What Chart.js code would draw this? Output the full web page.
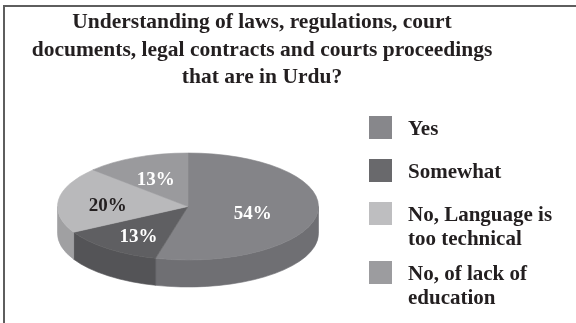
<!DOCTYPE html>
<html>
<head>
<meta charset="utf-8">
<script src="https://cdn.jsdelivr.net/npm/chart.js@4/dist/chart.umd.min.js"></script>
<style>
  html, body { margin: 0; padding: 0; background: #fff; }
  body { width: 576px; height: 323px; position: relative; overflow: hidden; }
  .frame { position: absolute; left: 3px; top: 5px; width: 640px; height: 420px; border: 2px solid #5e5e5e; }
  .chart-wrap { position: absolute; left: 0; top: 0; width: 524px; height: 323px; }
  .legend { position: absolute; left: 369px; top: 0; font-family: "Liberation Serif", serif; font-weight: bold; font-size: 21px; line-height: 24px; color: #231f20; }
  .legend-item { position: absolute; left: 0; white-space: nowrap; }
  .legend-box { position: absolute; left: 0; top: 0.5px; width: 23px; height: 23px; }
  .legend-text { position: absolute; left: 39px; top: 0; }
</style>
</head>
<body>
<div class="frame"></div>
<div class="chart-wrap"><canvas id="pie-chart"></canvas></div>
<div class="legend" id="legend"></div>
<script>
// data
const TITLE_LINES = [
  "Understanding of laws, regulations, court",
  "documents, legal contracts and courts proceedings",
  "that are in Urdu?"
];
const CATEGORIES = ["Yes", "Somewhat", "No, Language is too technical", "No, of lack of education"];
const LEGEND_LINES = [["Yes"], ["Somewhat"], ["No, Language is", "too technical"], ["No, of lack of", "education"]];
const SHARES = [54, 13, 20, 13];

// styles
const SERIF = "'Liberation Serif', serif";
const TOP_COLORS = ["#848488", "#5f5f62", "#b9b9bb", "#9a9a9d"];
const SIDE_COLORS = ["#6f6f73", "#545457", "#a0a0a2", "#8a8a8d"];
const LEGEND_COLORS = ["#87878b", "#69696c", "#bebec0", "#9c9c9f"];
const PCT_COLORS = ["#ffffff", "#ffffff", "#231f20", "#ffffff"];
const LEGEND_TOPS = [115.5, 158.5, 201.5, 260.5];

// 3d pie geometry (layout only)
const PIE = { cx: 188, cy: 206.5, rx: 130.5, ry: 53.5, depth: 27, labelK: 0.62 };

// build the html legend
const legendEl = document.getElementById("legend");
LEGEND_LINES.forEach((lines, i) => {
  const item = document.createElement("div");
  item.className = "legend-item";
  item.style.top = LEGEND_TOPS[i] + "px";
  item.innerHTML = `<div class="legend-box" style="background:${LEGEND_COLORS[i]}"></div>` +
    `<div class="legend-text">${lines.join("<br>")}</div>`;
  legendEl.appendChild(item);
});

// draws the library's arcs as a tilted pie with a side wall
const pie3d = {
  id: "pie3d",
  beforeDatasetsDraw(chart) {
    const ctx = chart.ctx;
    const arcs = chart.getDatasetMeta(0).data;
    const { cx, cy, rx, ry, depth } = PIE;
    ctx.save();

    // front side walls (visible part is angle 0..PI)
    arcs.forEach((arc, i) => {
      const { startAngle, endAngle } = arc.getProps(["startAngle", "endAngle"], true);
      for (let k = -1; k <= 1; k++) {
        const s = Math.max(startAngle + k * 2 * Math.PI, 0);
        const e = Math.min(endAngle + k * 2 * Math.PI, Math.PI);
        if (e <= s) continue;
        ctx.beginPath();
        ctx.ellipse(cx, cy, rx, ry, 0, s, e);
        ctx.ellipse(cx, cy + depth, rx, ry, 0, e, s, true);
        ctx.closePath();
        ctx.fillStyle = SIDE_COLORS[i];
        ctx.strokeStyle = SIDE_COLORS[i];
        ctx.lineWidth = 0.6;
        ctx.fill();
        ctx.stroke();
      }
    });

    // top faces
    arcs.forEach((arc, i) => {
      const { startAngle, endAngle } = arc.getProps(["startAngle", "endAngle"], true);
      ctx.beginPath();
      ctx.moveTo(cx, cy);
      ctx.ellipse(cx, cy, rx, ry, 0, startAngle, endAngle);
      ctx.closePath();
      ctx.fillStyle = TOP_COLORS[i];
      ctx.strokeStyle = TOP_COLORS[i];
      ctx.lineWidth = 0.6;
      ctx.fill();
      ctx.stroke();
    });

    // percentage labels
    ctx.font = "bold 19px " + SERIF;
    ctx.textAlign = "center";
    ctx.textBaseline = "middle";
    arcs.forEach((arc, i) => {
      const { startAngle, endAngle } = arc.getProps(["startAngle", "endAngle"], true);
      const mid = (startAngle + endAngle) / 2;
      const k = i === 0 ? 0.5 : PIE.labelK;
      const x = cx + k * rx * Math.cos(mid);
      const y = cy + k * ry * Math.sin(mid) + 4;
      ctx.fillStyle = PCT_COLORS[i];
      ctx.fillText(SHARES[i] + "%", x, y);
    });

    ctx.restore();
    return false;
  }
};

const ctx = document.getElementById("pie-chart").getContext("2d");
new Chart(ctx, {
  type: "pie",
  data: {
    labels: CATEGORIES,
    datasets: [{
      data: SHARES,
      backgroundColor: TOP_COLORS,
      borderWidth: 0
    }]
  },
  options: {
    responsive: true,
    maintainAspectRatio: false,
    animation: false,
    layout: { padding: 0 },
    plugins: {
      legend: { display: false },
      tooltip: { enabled: false },
      title: {
        display: true,
        text: TITLE_LINES,
        color: "#231f20",
        padding: { top: 9, bottom: 0 },
        font: { family: SERIF, weight: "bold", size: 21.5, lineHeight: 1.28 }
      }
    }
  },
  plugins: [pie3d]
});
</script>
</body>
</html>
